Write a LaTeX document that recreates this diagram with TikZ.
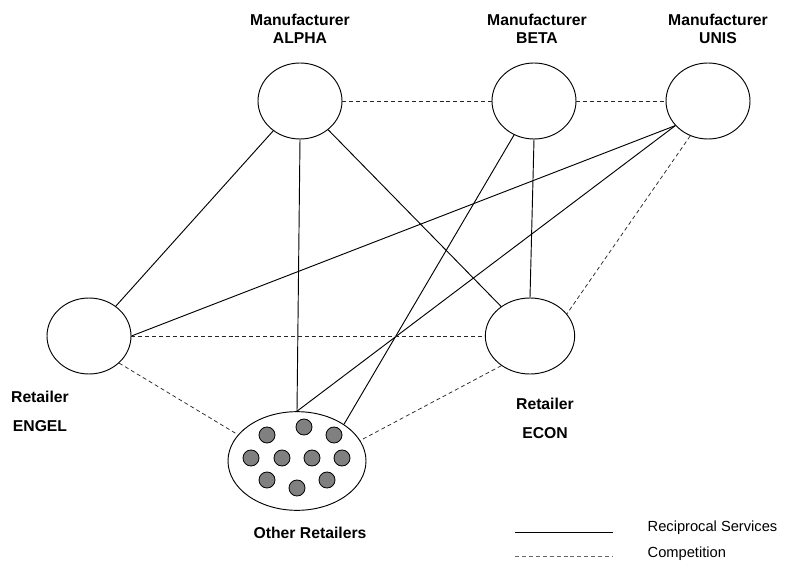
\documentclass[tikz,border=0pt]{standalone}
\usepackage{fontspec}
\setmainfont{Liberation Sans}
\usepackage{tikz}
\usetikzlibrary{shapes.geometric}
\definecolor{shopGray}{RGB}{128,128,128}

\begin{document}
\begin{tikzpicture}[
    x=0.75pt, y=-0.75pt,
    firm/.style={draw, ellipse, line width=0.7pt, inner sep=0pt,
                 minimum width=63pt, minimum height=57pt},
    pool/.style={draw, ellipse, line width=0.7pt, inner sep=0pt,
                 minimum width=103.5pt, minimum height=74pt},
    shop/.style={draw, circle, fill=shopGray, line width=0.6pt,
                 inner sep=0pt, minimum size=12pt},
    lbl/.style={align=center, font=\bfseries\fontsize{11.8}{13.5}\selectfont},
    rlbl/.style={align=center, font=\bfseries\fontsize{11.8}{21.75}\selectfont},
    keytxt/.style={anchor=west, font=\fontsize{11}{13}\selectfont},
    service/.style={line width=0.7pt},
    rival/.style={line width=0.55pt, black!85, dash pattern=on 3pt off 2.2pt}
]
    \useasboundingbox (0,0) rectangle (786,563);

    % firms
    \node[firm] (alpha) at (300,101) {};
    \node[firm] (beta) at (534,101) {};
    \node[firm] (unis) at (708,101) {};
    \node[firm] (engel) at (89,336) {};
    \node[firm, minimum width=67pt] (econ) at (530,336) {};
    \node[pool] (others) at (297,461) {};

    \foreach \px/\py [count=\k] in {267/435, 304/427, 334/435, 251/458, 282/458,
                                    312/458, 342/458, 267/480, 297/488, 327/480}
        \node[shop] (shop\k) at (\px,\py) {};

    % labels
    \node[lbl] (alphaLbl) at (300,29) {Manufacturer\\ALPHA};
    \node[lbl] (betaLbl) at (537,29) {Manufacturer\\BETA};
    \node[lbl] (unisLbl) at (718,29) {Manufacturer\\UNIS};
    \node[rlbl] (engelLbl) at (40,411) {Retailer\\ENGEL};
    \node[rlbl] (econLbl) at (545,418) {Retailer\\ECON};
    \node[lbl] (othersLbl) at (310,533) {Other Retailers};

    % reciprocal services
    \draw[service] (alpha) -- (engel);
    \draw[service] (alpha.south) -- (others.north);
    \draw[service] (alpha) -- (econ);
    \draw[service] (beta) -- (others.38);
    \draw[service] (beta.south) -- (econ.north);
    \draw[service] (unis.217) -- (engel.east);
    \draw[service] (unis.217) -- (others.north);

    % competition
    \draw[rival] (alpha.east) -- (beta.west);
    \draw[rival] (beta.east) -- (unis.west);
    \draw[rival] (unis.243) -- (econ.31);
    \draw[rival] (engel.east) -- (econ.west);
    \draw[rival] (engel.318) -- (others.156);
    \draw[rival] (econ.226) -- (others.18);

    % key
    \coordinate (svcA) at (515,532);
    \coordinate (svcB) at (613,532);
    \coordinate (rivA) at (515,556);
    \coordinate (rivB) at (613,556);
    \draw[service] (svcA) -- (svcB);
    \draw[rival, black!60] (rivA) -- (rivB);
    \node[keytxt] (svcTxt) at (643,528) {Reciprocal Services};
    \node[keytxt] (rivTxt) at (643,554) {Competition};
\end{tikzpicture}
\end{document}
